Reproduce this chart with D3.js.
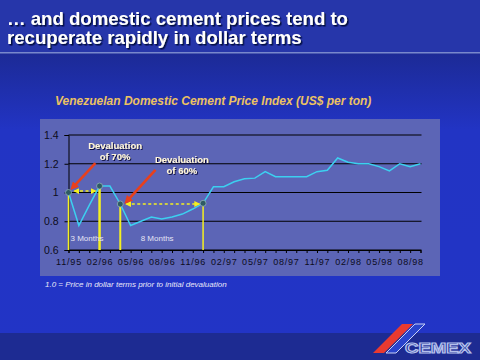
<!DOCTYPE html>
<html><head><meta charset="utf-8">
<script src="https://cdn.jsdelivr.net/npm/d3@7"></script>
<style>html,body{margin:0;padding:0;background:#2033c0;}svg{display:block;}</style>
</head><body>
<script>
// ---- data ----
const months = ["11/95","12/95","01/96","02/96","03/96","04/96","05/96","06/96","07/96","08/96","09/96","10/96","11/96","12/96",
"01/97","02/97","03/97","04/97","05/97","06/97","07/97","08/97","09/97","10/97","11/97","12/97",
"01/98","02/98","03/98","04/98","05/98","06/98","07/98","08/98","09/98"];
const priceIndex = [1.00,0.77,0.91,1.045,1.045,0.92,0.77,0.80,0.83,0.815,0.83,0.85,0.885,0.925,
1.04,1.04,1.075,1.095,1.10,1.145,1.11,1.11,1.11,1.11,1.145,1.155,
1.24,1.21,1.20,1.20,1.18,1.15,1.20,1.18,1.20];
const xTickLabels = ["11/95","02/96","05/96","08/96","11/96","02/97","05/97","08/97","11/97","02/98","05/98","08/98"];
const yTicks = [0.6,0.8,1.0,1.2,1.4];
const yTickLabels = ["0.6","0.8","1","1.2","1.4"];
const markerMonths = ["11/95","02/96","04/96","12/96"];
const spanArrows = [{from:"11/95",to:"02/96",v:1.01,label:"3 Months"},{from:"04/96",to:"12/96",v:0.92,label:"8 Months"}];
const devalLabels = [{lines:["Devaluation","of 70%"],at:4.5,v:1.30},{lines:["Devaluation","of 60%"],at:10.95,v:1.205}];
const redArrows = [{x1:2.6,v1:1.205,x2:0.45,v2:1.038},{x1:8.4,v1:1.157,x2:5.67,v2:0.942}];

const W=480,H=360;
const svg=d3.select("body").append("svg").attr("width",W).attr("height",H);
const defs=svg.append("defs");
const bg=defs.append("linearGradient").attr("id","bg").attr("x1",0).attr("y1",0).attr("x2",0).attr("y2",1);
bg.append("stop").attr("offset","0").attr("stop-color","#1c2a96");
bg.append("stop").attr("offset","0.25").attr("stop-color","#2234c4");
bg.append("stop").attr("offset","1").attr("stop-color","#2234c6");
const sh=defs.append("filter").attr("id","shadow").attr("x","-10%").attr("y","-30%").attr("width","120%").attr("height","160%");
sh.append("feDropShadow").attr("dx",1.5).attr("dy",1.5).attr("stdDeviation",0.3).attr("flood-color","#000a40").attr("flood-opacity",1);
const sh2=defs.append("filter").attr("id","shadow2").attr("x","-10%").attr("y","-30%").attr("width","120%").attr("height","160%");
sh2.append("feDropShadow").attr("dx",1).attr("dy",1).attr("stdDeviation",0.2).attr("flood-color","#101040").attr("flood-opacity",1);
defs.append("marker").attr("id","redHead").attr("viewBox","0 0 10 10").attr("refX",5).attr("refY",5)
 .attr("markerWidth",3.2).attr("markerHeight",3.2).attr("orient","auto")
 .append("path").attr("d","M0,0L10,5L0,10z").attr("fill","#e8401c");
defs.append("marker").attr("id","yHead").attr("viewBox","0 0 10 10").attr("refX",8).attr("refY",5)
 .attr("markerWidth",4).attr("markerHeight",4).attr("orient","auto-start-reverse")
 .append("path").attr("d","M0,0L10,5L0,10z").attr("fill","#f4f020");

// background
svg.append("rect").attr("x",0).attr("y",53).attr("width",W).attr("height",H-53).attr("fill","url(#bg)");
svg.append("rect").attr("x",0).attr("y",0).attr("width",W).attr("height",53).attr("fill","#2636aa");
svg.append("rect").attr("x",0).attr("y",52).attr("width",W).attr("height",1.5).attr("fill","#7888cc");
svg.append("rect").attr("x",0).attr("y",333).attr("width",W).attr("height",27).attr("fill","#1d2b92");

// title
const tLines=["\u2026 and domestic cement prices tend to","recuperate rapidly in dollar terms"];
tLines.forEach((t,i)=>{
  svg.append("text").attr("x",7).attr("y",25+i*19).text(t)
    .attr("font-family","Liberation Sans, Arial, sans-serif").attr("font-weight","bold")
    .attr("font-size",18.6).attr("fill","#ffffff").attr("filter","url(#shadow)");
});

// chart title
svg.append("text").attr("x",55).attr("y",105).text("Venezuelan Domestic Cement Price Index (US$ per ton)")
 .attr("font-family","Liberation Sans, Arial, sans-serif").attr("font-weight","bold").attr("font-style","italic")
 .attr("font-size",12).attr("fill","#ecc262");

// panel
svg.append("rect").attr("x",40).attr("y",119).attr("width",400).attr("height",157).attr("fill","#5c65b6");

const x=d3.scalePoint(months,[68.5,420.5]);
const y=d3.scaleLinear([0.6,1.4],[250,135]);
const xr=x.range();

// gridlines
svg.append("g").selectAll("line").data(yTicks).join("line")
 .attr("x1",xr[0]).attr("x2",xr[1]+1).attr("y1",d=>y(d)).attr("y2",d=>y(d))
 .attr("stroke","#000").attr("stroke-width",1);

// axes
const ya=svg.append("g").attr("transform",`translate(${xr[0]},0)`)
 .call(d3.axisLeft(y).tickValues(yTicks).tickSize(4).tickPadding(6).tickFormat((d,i)=>yTickLabels[i]));
ya.selectAll("text").attr("font-family","Liberation Sans, Arial, sans-serif").attr("font-size",10.5).attr("fill","#0c0c20");
ya.select(".domain").attr("stroke","#000");
ya.selectAll(".tick line").attr("stroke","#000");

const xa=svg.append("g").attr("transform",`translate(0,${y(0.6)})`)
 .call(d3.axisBottom(x).tickSize(3).tickPadding(6).tickFormat(d=>xTickLabels.includes(d)?d:""));
xa.selectAll("text").attr("font-family","Liberation Sans, Arial, sans-serif").attr("font-size",9).attr("fill","#0c0c20").attr("letter-spacing",0.8);
xa.select(".domain").attr("stroke","#000");
xa.selectAll(".tick line").attr("stroke","#000");

// yellow drop lines
const widths=[1.5,2.5,2,1.5];
svg.append("g").selectAll("line").data(markerMonths).join("line")
 .attr("x1",d=>x(d)).attr("x2",d=>x(d)).attr("y1",d=>y(priceIndex[months.indexOf(d)])).attr("y2",y(0.6))
 .attr("stroke","#f4f020").attr("stroke-width",(d,i)=>widths[i]);

// series line
svg.append("path").datum(priceIndex)
 .attr("d",d3.line().x((d,i)=>x(months[i])).y(d=>y(d)))
 .attr("fill","none").attr("stroke","#3cd0f0").attr("stroke-width",1.5);

// marker dots
svg.append("g").selectAll("circle").data(markerMonths).join("circle")
 .attr("cx",d=>x(d)).attr("cy",d=>y(priceIndex[months.indexOf(d)])).attr("r",3)
 .attr("fill","#2e5a64").attr("stroke","#8fb0b8").attr("stroke-width",0.8);

// span arrows
spanArrows.forEach(a=>{
  svg.append("line").attr("x1",x(a.from)+6).attr("x2",x(a.to)-4).attr("y1",y(a.v)).attr("y2",y(a.v))
   .attr("stroke","#f4f020").attr("stroke-width",1.5).attr("stroke-dasharray","3,2.5")
   .attr("marker-start","url(#yHead)").attr("marker-end","url(#yHead)");
  svg.append("text").attr("x",x(a.from)+(a.label==="3 Months"?2:(x(a.to)-x(a.from))/2-21)).attr("y",241).text(a.label)
   .attr("font-family","Liberation Sans, Arial, sans-serif").attr("font-size",8).attr("fill","#e4e4f4");
});

// red arrows
const xi=i=>xr[0]+i*x.step();
redArrows.forEach(a=>{
  svg.append("line").attr("x1",xi(a.x1)).attr("y1",y(a.v1)).attr("x2",xi(a.x2)).attr("y2",y(a.v2))
   .attr("stroke","#e8401c").attr("stroke-width",2.6).attr("marker-end","url(#redHead)");
});

// devaluation labels
devalLabels.forEach(l=>{
  l.lines.forEach((t,i)=>{
    svg.append("text").attr("x",xi(l.at)).attr("y",y(l.v)+i*11).text(t)
     .attr("text-anchor","middle").attr("font-family","Liberation Sans, Arial, sans-serif")
     .attr("font-weight","bold").attr("font-size",9.5).attr("fill","#fff6dc").attr("filter","url(#shadow2)");
  });
});

// footnote
svg.append("text").attr("x",45).attr("y",287).text("1.0 = Price in dollar terms prior to initial devaluation")
 .attr("font-family","Liberation Sans, Arial, sans-serif").attr("font-style","italic").attr("font-size",8).attr("fill","#e8e8f8");

// logo
svg.append("polygon").attr("points","373,353 384,353 413,324 402,324").attr("fill","#e83a30");
svg.append("polygon").attr("points","386,353 396,353 425,324 415,324").attr("fill","#2a44cc").attr("stroke","#c8d0f4").attr("stroke-width",1);
svg.append("text").attr("x",405).attr("y",353).text("CEMEX").attr("font-family","Liberation Sans, Arial, sans-serif")
 .attr("font-weight","bold").attr("font-size",15).attr("fill","none").attr("stroke","#b4c0ec").attr("stroke-width",1.2)
 .attr("textLength",66).attr("lengthAdjust","spacingAndGlyphs");
</script>
</body></html>
